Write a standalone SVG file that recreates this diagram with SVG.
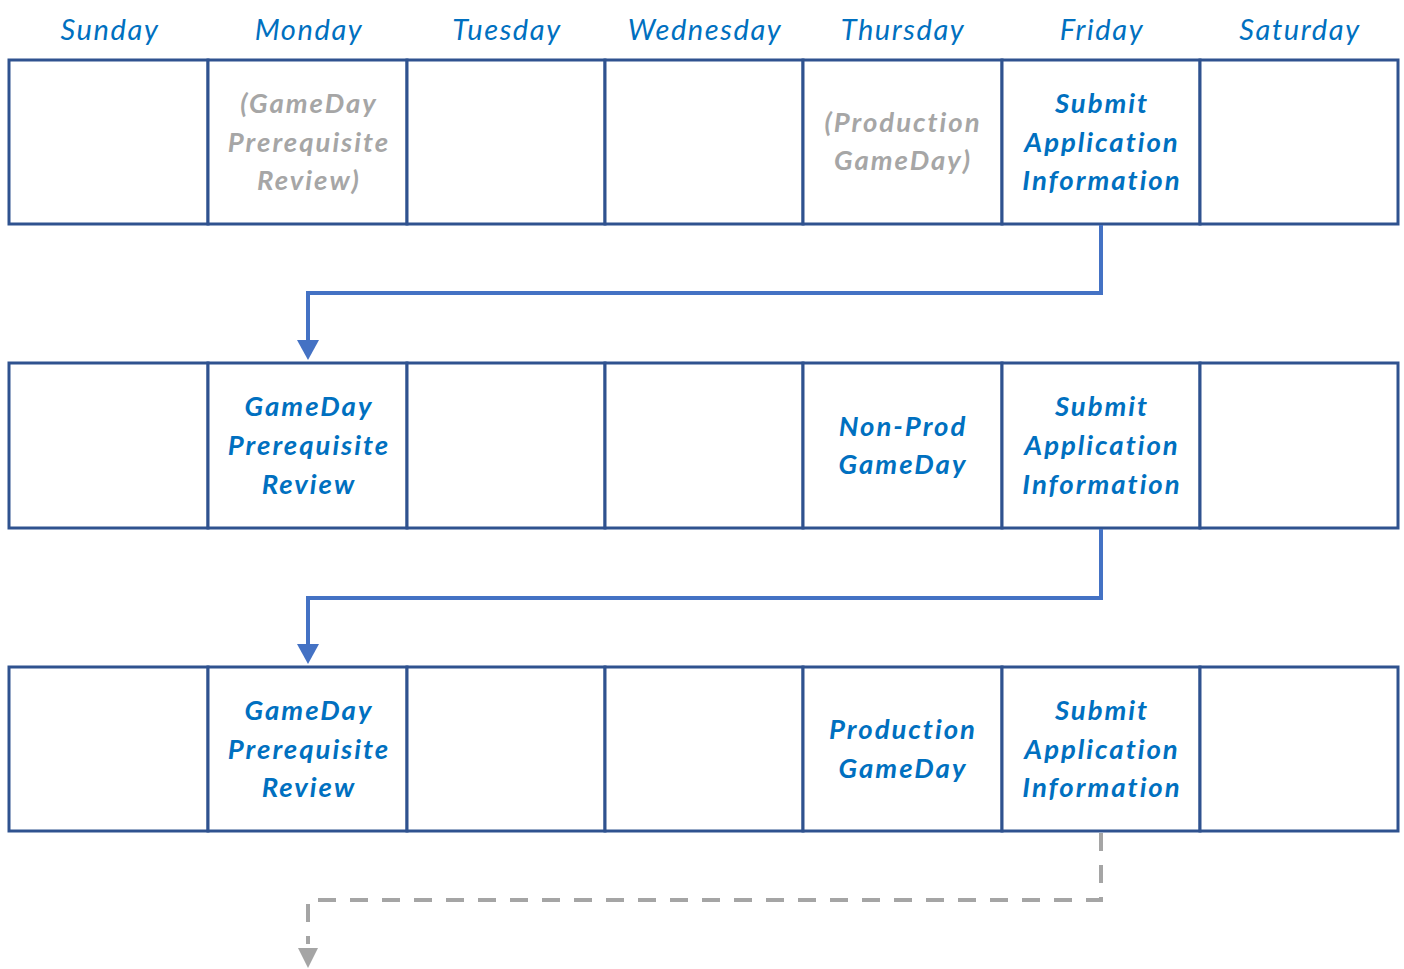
<svg xmlns="http://www.w3.org/2000/svg" width="1404" height="969" viewBox="0 0 1404 969">
<defs>
<style>
.hdr{font-family:Lato,"Liberation Sans",sans-serif;font-style:italic;font-size:29px;fill:#0070C0;text-anchor:middle;letter-spacing:1.6px}
.cell{fill:#fff;stroke:#2F528F;stroke-width:3}
.t{font-family:Lato,"Liberation Sans",sans-serif;font-style:italic;font-weight:bold;font-size:27.5px;fill:#0070C0;text-anchor:middle;letter-spacing:2px}
.g{fill:#A6A6A6}
.conn{fill:none;stroke:#4472C4;stroke-width:4}
.dash{fill:none;stroke:#A5A5A5;stroke-width:4;stroke-dasharray:18 14}
</style>
</defs>
<g id="headers">
<text class="hdr" x="110" y="40">Sunday</text>
<text class="hdr" x="309" y="40">Monday</text>
<text class="hdr" x="507" y="40">Tuesday</text>
<text class="hdr" x="705" y="40">Wednesday</text>
<text class="hdr" x="903" y="40">Thursday</text>
<text class="hdr" x="1102" y="40">Friday</text>
<text class="hdr" x="1300" y="40">Saturday</text>
</g>
<g id="week1">
<rect class="cell" x="9" y="60" width="199" height="164"/>
<rect class="cell" x="208" y="60" width="199" height="164"/>
<rect class="cell" x="407" y="60" width="198" height="164"/>
<rect class="cell" x="605" y="60" width="198" height="164"/>
<rect class="cell" x="803" y="60" width="199" height="164"/>
<rect class="cell" x="1002" y="60" width="198" height="164"/>
<rect class="cell" x="1200" y="60" width="198" height="164"/>
<text class="t g"><tspan x="309" y="113">(GameDay</tspan><tspan x="309" y="152">Prerequisite</tspan><tspan x="309" y="190">Review)</tspan></text>
<text class="t g"><tspan x="903" y="132">(Production</tspan><tspan x="903" y="170">GameDay)</tspan></text>
<text class="t"><tspan x="1102" y="113">Submit</tspan><tspan x="1102" y="152">Application</tspan><tspan x="1102" y="190">Information</tspan></text>
</g>
<g id="week2">
<rect class="cell" x="9" y="363" width="199" height="165"/>
<rect class="cell" x="208" y="363" width="199" height="165"/>
<rect class="cell" x="407" y="363" width="198" height="165"/>
<rect class="cell" x="605" y="363" width="198" height="165"/>
<rect class="cell" x="803" y="363" width="199" height="165"/>
<rect class="cell" x="1002" y="363" width="198" height="165"/>
<rect class="cell" x="1200" y="363" width="198" height="165"/>
<text class="t"><tspan x="309" y="416">GameDay</tspan><tspan x="309" y="455">Prerequisite</tspan><tspan x="309" y="494">Review</tspan></text>
<text class="t"><tspan x="903" y="436">Non-Prod</tspan><tspan x="903" y="474">GameDay</tspan></text>
<text class="t"><tspan x="1102" y="416">Submit</tspan><tspan x="1102" y="455">Application</tspan><tspan x="1102" y="494">Information</tspan></text>
</g>
<g id="week3">
<rect class="cell" x="9" y="667" width="199" height="164"/>
<rect class="cell" x="208" y="667" width="199" height="164"/>
<rect class="cell" x="407" y="667" width="198" height="164"/>
<rect class="cell" x="605" y="667" width="198" height="164"/>
<rect class="cell" x="803" y="667" width="199" height="164"/>
<rect class="cell" x="1002" y="667" width="198" height="164"/>
<rect class="cell" x="1200" y="667" width="198" height="164"/>
<text class="t"><tspan x="309" y="720">GameDay</tspan><tspan x="309" y="759">Prerequisite</tspan><tspan x="309" y="797">Review</tspan></text>
<text class="t"><tspan x="903" y="739">Production</tspan><tspan x="903" y="778">GameDay</tspan></text>
<text class="t"><tspan x="1102" y="720">Submit</tspan><tspan x="1102" y="759">Application</tspan><tspan x="1102" y="797">Information</tspan></text>
</g>
<g id="connectors">
<path class="conn" d="M1101,225 V293 H308 V342"/>
<path d="M297,340 H319 L308,360 Z" fill="#4472C4"/>
<path class="conn" d="M1101,529 V598 H308 V646"/>
<path d="M297,644 H319 L308,664 Z" fill="#4472C4"/>
<path class="dash" d="M1101,833 V900 H308 V944"/>
<path d="M298,948 H318 L308,968 Z" fill="#A5A5A5"/>
</g>
</svg>
